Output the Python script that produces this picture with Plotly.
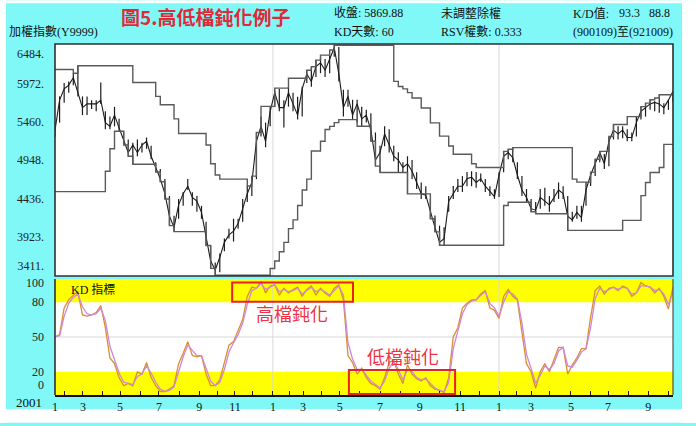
import plotly.graph_objects as go

# ---------------- data (weekly samples) ----------------
weeks = list(range(136))

price_close = [
    5350, 5750, 5900, 5950, 6050, 5850, 5650, 5700, 5700, 5700,
    5750, 5450, 5400, 5550, 5380, 5200, 5050, 5150, 5050, 5150,
    5200, 5000, 4850, 4700, 4500, 4200, 4050, 4350, 4500, 4600,
    4450, 4400, 4250, 3900, 3600, 3480, 3650, 3850, 3950, 4000,
    4100, 4300, 4500, 4650, 5200, 5400, 5200, 5600, 5850, 5650,
    5650, 5850, 5700, 5550, 5900, 6100, 6000, 6200, 6250, 6150,
    6300, 6450, 6100, 5650, 5800, 5550, 5700, 5500, 5550, 5350,
    4950, 5050, 5300, 5150, 5000, 4950, 4850, 4900, 4800, 4650,
    4500, 4480, 4250, 4050, 3850, 3900, 4400, 4500, 4600, 4600,
    4700, 4720, 4650, 4700, 4600, 4530, 4460, 4750, 5000, 5050,
    4980, 4750, 4550, 4450, 4300, 4280, 4450, 4400, 4350, 4450,
    4550, 4500, 4200, 4150, 4250, 4180, 4550, 4750, 4900, 5050,
    4900, 5200, 5350, 5300, 5350, 5250, 5250, 5450, 5600, 5650,
    5700, 5720, 5700, 5650, 5750, 5870]
price_high = [
    5460, 5800, 5980, 6000, 6110, 6210, 5800, 5800, 5750, 5750,
    5985, 5600, 5530, 5660, 5500, 5335, 5225, 5180, 5225, 5180,
    5250, 5140, 4920, 4830, 4695, 4470, 4205, 4430, 4523, 4695,
    4520, 4470, 4338, 4125, 3808, 3580, 3700, 3900, 4030, 4165,
    4165, 4430, 4603, 4735, 5318, 5530, 5450, 5660, 5888, 5900,
    5750, 5928, 5850, 5795, 5930, 6150, 6190, 6285, 6330, 6300,
    6350, 6484, 6460, 5890, 5890, 5755, 5755, 5660, 5620, 5575,
    5318, 5140, 5400, 5360, 5140, 5053, 4920, 5000, 4950, 4788,
    4650, 4600, 4430, 4210, 4073, 4050, 4470, 4603, 4695, 4735,
    4790, 4800, 4790, 4770, 4695, 4600, 4560, 4788, 5066, 5093,
    5115, 4920, 4735, 4563, 4430, 4390, 4563, 4580, 4470, 4563,
    4650, 4600, 4470, 4258, 4338, 4338, 4655, 4788, 4960, 5066,
    5030, 5265, 5425, 5400, 5400, 5360, 5318, 5530, 5663, 5710,
    5755, 5735, 5822, 5710, 5755, 5870]
price_low = [
    5260, 5450, 5715, 5850, 5950, 5800, 5550, 5550, 5630, 5600,
    5700, 5360, 5360, 5400, 5335, 5150, 5000, 4894, 5000, 5050,
    5100, 4960, 4790, 4660, 4430, 4073, 3993, 4165, 4338, 4550,
    4340, 4258, 4165, 3808, 3502, 3411, 3450, 3730, 3900, 3860,
    4033, 4125, 4390, 4470, 4695, 5265, 5120, 5400, 5663, 5600,
    5384, 5663, 5600, 5490, 5530, 5980, 5930, 6060, 6110, 6060,
    6110, 6330, 6000, 5530, 5660, 5490, 5450, 5400, 5450, 5200,
    4868, 4784, 5133, 5050, 4935, 4788, 4788, 4497, 4695, 4563,
    4430, 4430, 4165, 3990, 3812, 3812, 4258, 4430, 4523, 4523,
    4600, 4600, 4580, 4655, 4523, 4470, 4430, 4457, 4788, 4960,
    4920, 4695, 4470, 4390, 4258, 4232, 4300, 4338, 4258, 4390,
    4430, 4430, 4010, 4125, 4165, 4125, 4338, 4603, 4735, 4920,
    4830, 4868, 5225, 5225, 5240, 5200, 5200, 5265, 5490, 5530,
    5620, 5600, 5583, 5560, 5620, 5730]

# 60-day highest high / lowest low channel, as drawn
channel_high = [
    6160, 6160, 6160, 6160, 6110, 6210, 6210, 6210, 6210, 6210,
    6210, 6210, 6210, 6210, 6210, 6210, 6210, 5985, 5985, 5985,
    5985, 5985, 5800, 5689, 5689, 5689, 5500, 5305, 5305, 5305,
    5305, 5305, 5305, 5150, 4900, 4750, 4695, 4695, 4695, 4695,
    4695, 4695, 4603, 4735, 5318, 5667, 5667, 5667, 5910, 5910,
    5910, 6043, 6043, 6043, 6043, 6150, 6197, 6285, 6352, 6352,
    6420, 6484, 6484, 6484, 6484, 6484, 6484, 6484, 6484, 6484,
    6484, 6484, 6484, 6484, 6000, 5932, 5900, 5850, 5778, 5778,
    5645, 5645, 5446, 5446, 5269, 5269, 5137, 5027, 5027, 5027,
    5027, 4900, 4850, 4850, 4850, 4850, 4850, 4850, 5066, 5093,
    5115, 5115, 5115, 5115, 5115, 5115, 5115, 5115, 5115, 5115,
    5115, 5115, 5115, 4695, 4655, 4655, 4655, 4788, 4960, 5066,
    5066, 5265, 5425, 5425, 5425, 5530, 5530, 5530, 5663, 5710,
    5755, 5778, 5822, 5822, 5822, 5870]
channel_low = [
    4527, 4527, 4527, 4527, 4527, 4527, 4527, 4527, 4527, 4527,
    4527, 4800, 5100, 5335, 5335, 5150, 5000, 4894, 4894, 4894,
    4894, 4894, 4790, 4660, 4430, 4073, 3993, 3993, 3993, 3993,
    3993, 3993, 3993, 3808, 3502, 3411, 3411, 3411, 3411, 3411,
    3411, 3411, 3411, 3411, 3411, 3411, 3411, 3500, 3600, 3724,
    3850, 4033, 4150, 4342, 4550, 4695, 5071, 5071, 5200, 5358,
    5400, 5450, 5490, 5490, 5490, 5490, 5402, 5402, 5402, 5200,
    4868, 4784, 4784, 4784, 4784, 4784, 4784, 4497, 4497, 4497,
    4497, 4497, 4165, 3990, 3812, 3812, 3812, 3812, 3812, 3812,
    3812, 3812, 3812, 3812, 3812, 3812, 3812, 3812, 4342, 4386,
    4386, 4386, 4386, 4386, 4258, 4232, 4232, 4232, 4232, 4232,
    4232, 4232, 4010, 4010, 4010, 4010, 4010, 4010, 4010, 4010,
    4010, 4010, 4010, 4010, 4143, 4143, 4143, 4143, 4474, 4650,
    4784, 4784, 4850, 5159, 5159, 5159]

k_values = [
    50, 52, 75, 82, 86, 89, 69, 68, 69, 71,
    77, 58, 32, 27, 15, 8, 10, 8, 20, 18,
    28, 15, 8, 3, 3, 5, 8, 27, 36, 46,
    34, 33, 34, 18, 8, 8, 13, 27, 43, 46,
    55, 65, 85, 93, 92, 98, 88, 94, 95, 86,
    92, 88, 91, 93, 85, 91, 94, 86, 92, 88,
    85, 92, 95, 82, 34, 28, 18, 23, 15, 10,
    8, 5, 15, 28, 30, 18, 10, 26, 18, 14,
    12, 15, 8, 5, 4, 2, 15, 50, 58, 75,
    79, 82, 82, 87, 90, 75, 73, 66, 85, 91,
    85, 82, 54, 27, 20, 6, 20, 27, 20, 30,
    41, 41, 18, 26, 32, 40, 40, 67, 90, 94,
    87, 92, 93, 90, 94, 92, 85, 88, 97, 94,
    93, 88, 92, 85, 74, 93.3]
d_values = [
    50, 51, 68, 79, 84, 87, 76, 70, 69, 70,
    75, 64, 42, 30, 19, 11, 10, 9, 16, 18,
    25, 19, 11, 5, 3, 4, 7, 21, 33, 43,
    38, 34, 34, 23, 12, 8, 11, 22, 37, 45,
    52, 62, 78, 90, 92, 96, 91, 93, 95, 89,
    91, 89, 90, 92, 87, 90, 93, 89, 91, 89,
    86, 90, 94, 86, 45, 31, 22, 22, 17, 12,
    9, 6, 12, 23, 29, 22, 13, 22, 20, 15,
    13, 14, 10, 6, 4, 3, 11, 40, 55, 70,
    78, 81, 82, 86, 89, 79, 75, 68, 80, 89,
    87, 83, 62, 35, 23, 10, 17, 25, 22, 27,
    38, 41, 25, 24, 30, 37, 40, 58, 83, 92,
    89, 91, 93, 91, 93, 92, 87, 88, 94, 94,
    93, 90, 91, 87, 78, 88.8]

# month starts (in week units) and their labels
month_pos = [0, 2.0, 6.1, 10.3, 14.2, 18.6, 22.7, 27.3, 31.5, 35.6, 39.3, 43.2,
             47.6, 51.3, 54.2, 58.3, 62.2, 66.6, 71.0, 75.4, 79.7, 84.1, 88.5, 92.8,
             97.0, 100.9, 104.0, 108.1, 112.7, 116.9, 120.8, 125.2, 129.6, 134.0]
month_lbl = ["1", "", "3", "", "5", "", "7", "", "9", "", "11", "",
             "1", "", "3", "", "5", "", "7", "", "9", "", "11", "",
             "1", "", "3", "", "5", "", "7", "", "9", ""]
year_start_idx = [12, 24]

price_ticks_mid = [5972, 5460, 4948, 4436, 3923]
price_tick_mid_text = ["5972.", "5460.", "4948.", "4436.", "3923."]
price_tick_top, price_tick_top_text = 6484, "6484."
price_tick_bot, price_tick_bot_text = 3411, "3411."
kd_ticks_mid = [20, 50, 80]
kd_tick_mid_text = ["20", "50", "80"]
kd_tick_top, kd_tick_top_text = 100, "100"
kd_tick_bot, kd_tick_bot_text = 0, "0"

# ---------------- layout helpers ----------------
W, H = 696, 426
L0, R0, T0, B0 = 55, 673, 44, 398   # plot area in window pixels
PRICE_RANGE = [3400, 6500]


def xp(px):
    return (px - L0) / (R0 - L0)


def yp(py):
    return (B0 - py) / (B0 - T0)


SERIF = "Liberation Serif, 'Noto Sans CJK TC', serif"
CJK = "'Noto Sans CJK TC', sans-serif"

fig = go.Figure()

# price: weekly high-low bars with close line
hi_err = [h - c for h, c in zip(price_high, price_close)]
lo_err = [c - l for c, l in zip(price_close, price_low)]
fig.add_trace(go.Scatter(
    x=weeks, y=price_close, mode="lines", xaxis="x", yaxis="y",
    line=dict(color="#1c1c1c", width=1.1),
    error_y=dict(type="data", symmetric=False, array=hi_err, arrayminus=lo_err,
                 thickness=1.2, width=0, color="#1c1c1c"),
    showlegend=False, hoverinfo="skip"))
fig.add_trace(go.Scatter(
    x=weeks, y=channel_high, mode="lines", line_shape="hv", xaxis="x", yaxis="y",
    line=dict(color="#5a5a5a", width=1.4), showlegend=False, hoverinfo="skip"))
fig.add_trace(go.Scatter(
    x=weeks, y=channel_low, mode="lines", line_shape="hv", xaxis="x", yaxis="y",
    line=dict(color="#5a5a5a", width=1.4), showlegend=False, hoverinfo="skip"))

# KD
fig.add_trace(go.Scatter(
    x=weeks, y=k_values, mode="lines", xaxis="x", yaxis="y2",
    line=dict(color="#d9902c", width=1.3), showlegend=False, hoverinfo="skip"))
fig.add_trace(go.Scatter(
    x=weeks, y=d_values, mode="lines", xaxis="x", yaxis="y2",
    line=dict(color="#cf86dc", width=1.3), showlegend=False, hoverinfo="skip"))

# invisible anchors for the overlay axes carrying the edge tick labels
for ax, yv in [("y3", price_tick_top), ("y4", price_tick_bot),
               ("y5", kd_tick_top), ("y6", kd_tick_bot)]:
    fig.add_trace(go.Scatter(x=[weeks[0]], y=[yv], xaxis="x", yaxis=ax, mode="markers",
                             marker=dict(opacity=0, size=1), showlegend=False,
                             hoverinfo="skip"))

upper_dom = [yp(278), 1]
lower_dom = [0, yp(281)]

shapes = []
# white strips outside the cyan panel
for x0, x1, y0, y1 in [(0, 6, 0, H), (682, W, 0, H), (0, W, 0, 3), (0, W, 412, H)]:
    shapes.append(dict(type="rect", xref="paper", yref="paper", layer="below",
                       x0=xp(x0), x1=xp(x1), y0=yp(y1), y1=yp(y0),
                       fillcolor="white", line=dict(width=0)))
# yellow KD zones
for y0, y1 in [(80, 100), (0, 20)]:
    shapes.append(dict(type="rect", xref="paper", yref="y2", layer="below",
                       x0=0, x1=1, y0=y0, y1=y1, fillcolor="#ffff00",
                       line=dict(width=0)))
# grid line at 50
shapes.append(dict(type="line", xref="paper", yref="y2", layer="below",
                   x0=0, x1=1, y0=50, y1=50, line=dict(color="#d8d8d8", width=1)))
# year boundaries
for i in year_start_idx:
    shapes.append(dict(type="line", xref="x", yref="paper", layer="below",
                       x0=month_pos[i], x1=month_pos[i], y0=0, y1=1,
                       line=dict(color="#d8d8d8", width=1)))
# frames
shapes.append(dict(type="rect", xref="paper", yref="paper",
                   x0=0, x1=1, y0=upper_dom[0], y1=1,
                   line=dict(color="#303030", width=1.6)))
shapes.append(dict(type="line", xref="paper", yref="paper",
                   x0=0, x1=0, y0=0, y1=lower_dom[1], line=dict(color="#303030", width=1.6)))
shapes.append(dict(type="line", xref="paper", yref="paper",
                   x0=1, x1=1, y0=0, y1=lower_dom[1], line=dict(color="#505050", width=1.2)))
# red highlight boxes
shapes.append(dict(type="rect", xref="x", yref="y2", x0=38.7, x1=65.1, y0=80.3, y1=97,
                   line=dict(color="#e8202a", width=2)))
shapes.append(dict(type="rect", xref="x", yref="y2", x0=64.2, x1=87.4, y0=0.8, y1=21.5,
                   line=dict(color="#e8202a", width=2)))

ann = []


def text(s, x, y, size=12, color="#111", family=SERIF, anchor="left"):
    ann.append(dict(text=s, x=xp(x), y=yp(y), xref="paper", yref="paper",
                    xanchor=anchor, yanchor="middle", showarrow=False, borderpad=0,
                    font=dict(size=size, color=color, family=family)))


text("<b>圖5.高低檔鈍化例子</b>", 205, 16, size=19, color="#e02a38", family=CJK, anchor="center")
text("加權指數(Y9999)", 8, 32, size=12)
text("收盤: 5869.88", 333, 13)
text("未調整除權", 440, 13)
text("K/D值:", 572, 13)
text("93.3", 618, 13)
text("88.8", 648, 13)
text("KD天數: 60", 333, 32)
text("RSV權數: 0.333", 440, 32)
text("(900109)至(921009)", 572, 32)
text("2001", 43, 406, size=13, anchor="right")
text("KD 指標", 70, 292)

ann.append(dict(text="高檔鈍化", x=51.8, y=71, xref="x", yref="y2", showarrow=False,
                font=dict(size=18, color="#ee3344", family=CJK)))
ann.append(dict(text="低檔鈍化", x=76, y=34, xref="x", yref="y2", showarrow=False,
                font=dict(size=18, color="#ee3344", family=CJK)))

tick_font = dict(family=SERIF, size=12, color="#222")


def yax(domain, rng, vals, texts, shift=0, overlay=None):
    d = dict(anchor="x", range=rng, side="left",
             tickmode="array", tickvals=vals, ticktext=texts,
             ticks="", showgrid=False, zeroline=False, showline=False,
             ticklabelstandoff=10, ticklabelshift=shift, tickfont=tick_font)
    if overlay:
        d["overlaying"] = overlay
    else:
        d["domain"] = domain
    return d


fig.update_layout(
    width=W, height=H, autosize=False,
    margin=dict(l=L0, r=W - R0, t=T0, b=H - B0, pad=0),
    paper_bgcolor="#80f8f8", plot_bgcolor="white",
    showlegend=False, hovermode=False,
    xaxis=dict(domain=[0, 1], anchor="y2", range=[0, 135],
               tickmode="array", tickvals=month_pos, ticktext=month_lbl,
               ticks="inside", ticklen=4, tickwidth=1, tickcolor="#222",
               showline=True, linecolor="#111", linewidth=2,
               showgrid=False, zeroline=False,
               tickfont=dict(family=SERIF, size=12, color="#111")),
    yaxis=yax(upper_dom, PRICE_RANGE, price_ticks_mid, price_tick_mid_text),
    yaxis2=yax(lower_dom, [0, 100], kd_ticks_mid, kd_tick_mid_text),
    # edge labels sit just inside the panel, as in the original
    yaxis3=yax(None, PRICE_RANGE, [price_tick_top], [price_tick_top_text], 9, "y"),
    yaxis4=yax(None, PRICE_RANGE, [price_tick_bot], [price_tick_bot_text], -9, "y"),
    yaxis5=yax(None, [0, 100], [kd_tick_top], [kd_tick_top_text], 4, "y2"),
    yaxis6=yax(None, [0, 100], [kd_tick_bot], [kd_tick_bot_text], -10, "y2"),
    shapes=shapes,
    annotations=ann,
)

fig.write_html("out.html",
               config={"displayModeBar": False, "staticPlot": True},
               post_script="document.body.style.margin='0';"
                           "document.body.style.overflow='hidden';")
